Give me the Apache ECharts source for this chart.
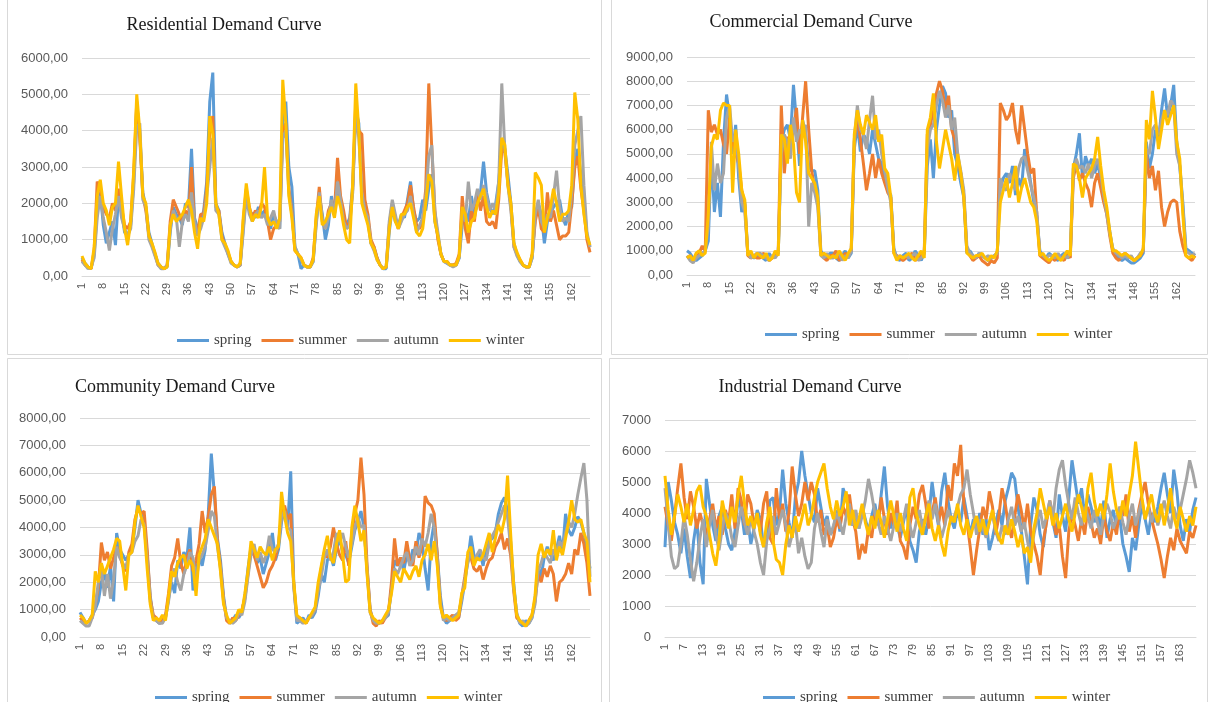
<!DOCTYPE html>
<html><head><meta charset="utf-8">
<script src="https://cdn.jsdelivr.net/npm/echarts@6/dist/echarts.min.js"></script>
<style>html,body{margin:0;padding:0;background:#fff}#c{width:1209px;height:702px}</style>
</head><body><div id="c"></div>
<script>
// categories: hour index 1..168 (one week)
const hours = Array.from({length:168}, (_, i) => String(i + 1));
const seasons = ['spring', 'summer', 'autumn', 'winter'];
const colors = ['#5B9BD5', '#ED7D31', '#A5A5A5', '#FFC000'];

// Residential
const resSpring = [
500,350,250,200,600,1800,2300,1400,900,1200,1500,850,2200,1800,1200,1100,1400,2600,4700,3900,2300,1900,1200,900,
600,350,250,200,250,1200,1900,1700,1600,1400,2000,1900,3500,1600,1300,1500,1800,2600,4800,5600,2000,1800,1200,900,
600,400,300,250,300,1300,2300,1800,1700,1600,1900,1700,1800,1500,1300,1700,1500,1300,4200,4800,3000,2450,800,600,
200,300,250,250,400,1500,2200,1700,1000,1400,2200,1700,2600,2000,1600,1400,1600,2500,4600,4200,2200,1900,1500,900,
800,500,300,200,200,1200,1900,1500,1400,1700,1600,2100,2600,1800,1500,1600,2100,1800,2400,2800,1500,1100,600,400,
350,300,300,300,500,1400,1800,1500,2200,1700,2000,2300,3150,2300,1900,1700,2000,2600,3600,3500,2800,2000,900,600,
400,300,250,250,500,1600,2000,1700,900,1500,1700,1900,2000,2100,1600,1400,1800,1900,3200,3500,2800,2100,1100,800];
const resSummer = [
450,300,250,200,700,2600,2400,1900,1700,1600,2000,1800,2400,1900,1400,1300,1500,2800,4800,3800,2200,1800,1100,850,
600,300,250,200,300,1500,2100,1900,1700,1500,1800,1600,3000,1400,1200,1700,1700,2400,4000,4400,1900,1800,1100,850,
650,400,300,250,300,1500,2400,1900,1600,1800,1700,2000,1900,1500,1000,1300,1400,1500,4000,4200,2400,1800,700,600,
500,300,250,250,500,1600,2450,1500,1300,1800,2000,1800,3250,2200,1800,1300,1500,2400,4800,4000,3900,2100,1700,1000,
800,500,300,200,250,1400,2000,1600,1300,1600,1800,2000,2500,1900,1400,1300,1500,2400,5300,3500,1800,1000,600,400,
400,300,300,350,600,2200,1300,900,1800,1500,2300,1800,2200,1500,1400,1500,1300,2100,3500,3400,2600,1900,800,600,
450,300,250,250,600,1500,1900,1300,1200,2300,1500,1800,1400,1000,1100,1100,1200,2000,3000,3300,2400,1800,1000,650];
const resAutumn = [
400,300,200,250,500,1600,2200,1600,1200,700,1300,1700,2200,1600,1300,1100,1300,2400,4100,4200,2100,1900,1000,800,
550,300,200,200,300,1300,1800,1600,800,1500,1700,1500,2300,1500,1100,1300,1600,2200,3000,3800,1800,1700,1000,800,
600,350,300,250,300,1200,2200,1700,1500,1700,1800,1600,1700,1400,1600,1800,1400,1300,3800,4000,2300,1700,800,600,
450,300,250,250,400,1400,2300,1600,1300,1600,2100,1700,2600,2100,1500,1300,1400,2300,4500,3800,2300,1800,1600,900,
700,450,300,200,250,1500,2100,1700,1300,1500,1700,1800,2200,1700,1200,1400,1600,2200,3300,3600,1800,1200,600,400,
350,300,250,300,500,1800,1500,2600,1800,2000,2400,2100,2500,2200,1800,2000,1800,2600,5300,3500,2500,1800,800,550,
400,300,250,250,500,1700,2100,1500,1300,1700,1600,2200,2900,1900,1500,1600,1500,2300,3600,4000,4400,2500,1200,800];
const resWinter = [
550,350,250,200,800,2200,2650,2000,1800,1400,1900,2000,3150,2200,1300,850,1500,2900,5000,4000,2200,2000,1100,900,
650,350,250,200,250,1400,1700,1500,1600,1700,1900,2100,1800,1200,750,1600,1500,2000,4400,3900,2000,1700,1000,900,
700,400,300,250,350,1600,2550,1900,1500,1700,1600,1900,3000,1600,1400,1500,1300,1600,5400,4200,2200,1600,700,600,
500,300,250,250,450,1700,2200,1400,1500,1700,1900,1600,2200,1900,1400,1000,900,2600,5300,4000,2000,1700,1400,900,
750,450,300,200,250,1300,1900,1500,1300,1700,1700,1900,2000,1600,1200,1100,1300,2000,2800,2600,1500,1100,600,400,
400,300,300,300,550,1900,1700,1200,1500,1600,2000,2200,2400,1900,1600,1800,1700,2300,3800,3600,2500,2000,900,650,
450,300,250,250,600,2850,2700,2500,1200,1600,1900,2400,2000,1500,1700,1700,1800,2500,5050,4300,2500,1700,1100,850];

// Commercial
const comSpring = [
1000,900,700,600,700,800,1000,1400,5000,2600,3800,2400,5500,7450,6500,5000,6200,4000,2600,3000,900,800,700,800,
800,700,600,900,700,800,900,5500,6000,6200,5600,7850,6300,4500,6400,5800,4500,4300,4300,3500,1000,800,700,900,
900,700,600,800,1000,700,900,5200,6200,5100,5800,5600,5000,6000,5400,4800,4600,4000,3500,3300,1100,700,600,800,
900,600,700,1000,800,600,900,4500,5600,4000,6000,7000,7800,7500,6500,6800,5000,4500,3800,3200,900,1000,800,700,
900,800,700,600,700,800,900,3600,4000,4200,3800,4500,3300,4000,3600,5200,4600,3800,3000,2400,1000,800,700,900,
800,700,600,800,900,700,800,4400,5000,5850,4000,4900,4500,4800,4200,4600,4000,3200,2600,1800,1000,800,700,600,
700,600,500,500,600,700,900,5500,4400,5000,6000,5500,6800,7700,6500,7000,7850,5500,4500,3000,1100,1000,900,800];
const comSummer = [
700,800,600,700,900,1200,1000,6800,5900,6200,5800,6000,5400,5000,6500,5500,5000,4600,3500,2900,800,700,800,700,
700,900,800,600,700,800,1000,7000,4200,5700,5400,6000,6900,5000,6500,8000,6000,4300,3500,3000,900,700,600,800,
800,1000,600,700,900,800,1000,5500,6500,5600,4600,3500,4200,5000,4000,4800,4200,3800,3400,3200,900,800,700,600,
700,800,900,600,700,800,1000,5800,6200,6800,7500,8000,7600,6800,7400,6000,5600,4800,4200,3300,1000,800,600,700,
800,600,500,400,600,500,700,7100,6800,6400,6600,7100,6000,5400,7000,6000,5000,4200,4400,2500,800,700,600,500,
700,600,800,700,600,900,700,4000,4600,3900,4200,3800,3500,2800,3800,4200,3600,3000,2500,1600,900,700,600,800,
900,800,700,600,700,800,1000,5000,4000,4500,3500,4300,2800,2000,2600,3000,3100,3000,1800,1200,800,700,600,800];
const comAutumn = [
800,600,500,700,800,900,1000,2000,5500,3500,4600,3800,4200,6500,7000,5500,5800,4500,3000,2600,900,700,800,900,
900,800,700,600,800,700,900,5000,5800,5500,4800,6500,5500,6000,5800,6200,2000,3800,3400,2800,800,700,900,700,
700,800,900,600,800,700,1000,5600,7000,6000,5800,5200,6400,7400,5600,6000,5000,4300,3600,3000,1000,700,800,700,
800,700,800,900,600,700,900,5200,6000,6200,7000,7600,7200,6500,7000,6000,6500,5000,4300,3500,1200,900,800,700,
900,800,700,800,700,800,900,4000,3600,3500,4200,3900,3500,4400,4800,4900,4300,3700,3200,2600,900,800,700,800,
800,700,900,600,800,700,900,4200,4800,4400,4500,4200,4600,4000,4500,4800,4200,3300,2500,1700,1100,900,800,700,
800,700,800,600,700,900,1000,5200,5000,6000,6200,5800,6400,6800,6600,7200,7000,5000,4500,2800,1000,900,800,900];
const comWinter = [
700,800,600,900,1000,800,900,2500,5300,5800,5600,6800,7100,7000,7000,3400,6000,5000,3500,3100,800,1000,700,900,
800,700,900,600,700,1000,800,5800,5600,4600,6200,5400,3400,3000,6400,5500,4200,4000,3800,3200,800,900,800,700,
800,700,1000,800,600,900,1100,5800,6800,6200,5800,6600,6300,6000,6600,5500,5800,4400,4200,3200,900,600,800,700,
800,900,700,600,800,1000,700,6000,6500,7500,5500,4400,5200,6000,5400,4800,3900,5000,4200,3200,900,800,700,800,
800,900,700,600,800,700,1000,3000,3500,4000,3200,3800,4500,3000,3600,4000,3500,3000,2800,2200,800,900,700,600,
700,900,700,600,800,1000,800,4600,4500,4000,3200,4000,4200,4400,4800,5700,4500,3500,2800,1800,1000,1000,900,800,
900,800,700,600,700,800,1100,6400,5600,7600,6500,5200,6000,6800,6200,6600,7000,5500,4800,2500,800,700,800,700];

// Community
const cmySpring = [
900,700,500,600,800,1000,1300,2000,2300,1800,2600,1300,3800,3200,3000,2800,3000,3200,4000,5000,4500,4200,3000,1500,
700,600,500,600,700,1400,2000,1600,2800,2500,3100,2900,4000,1700,2300,3000,2600,3200,4500,6700,5200,3600,2800,1500,
700,500,600,800,700,900,1500,2500,3300,3000,2700,2900,2300,2700,3100,3800,2800,3200,4200,4700,4000,6050,2000,500,
600,700,500,800,700,900,1500,2300,2000,2800,3000,2600,3200,3600,3100,3000,2700,3300,3900,4200,4600,4000,2500,1000,
600,500,500,600,700,800,1800,2800,2600,2900,2400,3000,2700,3200,3000,3800,3500,2500,1700,3500,4200,3000,1500,700,
500,600,700,800,700,1300,2000,2800,3700,3000,2800,3100,2600,3300,3500,3600,3800,4500,4900,5100,4600,3500,2000,800,
500,400,600,500,700,1400,2600,2200,2900,3300,3000,2800,3200,3700,3100,4500,3900,3700,4000,4400,4200,3800,3200,2500];
const cmySummer = [
700,600,500,600,700,1200,1800,3450,2800,3100,2500,2900,3300,3000,2600,2400,3100,3400,4300,4700,4500,4600,3200,1400,
800,700,500,600,800,1600,2600,2900,3600,2700,2300,2900,3200,2400,2800,3400,4600,3800,4400,5200,5500,3500,2600,1400,
600,500,700,600,800,1000,1400,2300,3200,3000,2600,2200,1800,2000,2400,2600,2900,3400,4500,4800,4300,4500,1900,700,
700,600,500,700,800,1000,1800,2500,3100,2900,3300,4000,3400,3000,2800,3500,2600,3800,4500,5000,6550,5200,2600,1000,
500,400,600,500,700,900,2000,3600,2600,2900,2700,3500,2800,2600,3500,2900,3300,5150,4900,4800,4500,3000,1200,700,
600,700,800,600,700,1500,2200,3000,2900,2500,2400,2600,2100,2500,2800,2900,3300,3500,3800,3200,3600,3000,1700,700,
600,500,400,600,800,1300,2300,2000,2500,2200,2600,2300,1300,2000,2100,2300,2700,2300,3200,3000,3800,3400,2700,1500];
const cmyAutumn = [
600,500,400,400,700,1100,2000,2500,1500,2300,1400,2100,3300,2900,2700,2500,3000,3100,3500,3700,4300,4100,2800,1300,
700,600,500,500,700,1300,2200,2500,2000,1700,2300,2600,3100,2900,2000,2800,3000,3300,3900,4600,4400,3300,2500,1300,
700,600,500,600,900,800,1300,2200,3000,3400,2800,3100,2700,3000,3700,3200,3100,3400,4400,4600,4000,3900,1800,600,
600,500,600,700,800,1000,1700,2200,2900,3200,2800,3100,3800,3500,3800,3300,2900,3400,4000,4400,4000,4100,2400,900,
600,500,500,600,700,900,1700,2500,2300,2600,2900,3100,2600,2800,3300,3000,3600,3300,3800,4500,4000,2800,1200,600,
700,600,700,800,900,1400,2100,2700,3100,2800,3000,3200,2900,2800,3400,3700,3900,4200,4500,4800,4400,3300,1800,900,
500,600,400,500,700,1200,2400,2700,3100,2900,2700,3200,3000,3500,3300,3800,4200,4000,4500,5200,5800,6350,5000,2200];
const cmyWinter = [
800,700,500,600,800,2400,2000,2700,2300,2600,2900,3200,3600,3500,2600,1700,3000,3100,4200,4800,4400,4000,2500,1200,
600,700,600,800,600,1500,2400,2200,2700,2900,3000,2500,2800,2600,1500,3000,3300,3600,4300,4000,3700,3400,2400,1200,
800,500,600,700,1000,900,1600,2400,3500,3200,2900,3300,3100,3000,3300,2800,3200,3300,5300,4400,3800,3500,2000,800,
700,600,500,700,900,1100,2000,2600,3200,3700,2900,2700,3400,3900,3000,2000,2100,4000,4800,4200,3500,3900,2300,900,
700,600,500,600,800,1000,1600,2400,2200,2000,2500,2300,2100,2400,2600,2200,2800,3000,3400,2800,3500,2600,1100,700,
800,700,600,700,800,1600,1800,3100,3300,2600,2900,2800,3000,3400,3800,3100,3600,4100,3800,4300,5900,3800,1900,800,
600,500,400,600,800,1500,3000,3400,2900,3200,3000,3900,2800,3300,3000,3600,4200,5000,4300,4200,4300,3800,3500,2000];

// Industrial
const indSpring = [
2900,5000,4400,3700,3300,2700,3500,2600,1900,3100,3800,2400,1700,5100,
4300,3600,3100,3900,4200,3500,3000,2800,3400,4500,4100,3300,3800,3000,
3500,4100,3800,2900,3300,4400,4500,3600,4000,5400,4300,3700,3200,4500,
5000,6000,5200,4600,4000,3700,4800,4200,3600,3900,3300,3500,4100,3400,
4800,4500,4000,3600,3900,3500,4200,3800,3400,3900,4300,3700,4600,5500,
4200,3500,3900,3600,3200,3700,4200,3100,2800,2400,3400,3800,3300,3900,
5000,4200,3600,4700,5300,4400,3800,3500,4100,3700,4500,3900,3300,3800,
3500,4000,3300,3800,2800,3200,3700,4100,3600,4400,4800,5300,5100,4200,
3500,2600,1700,3600,4500,4100,3300,2900,3800,4200,3700,3200,4600,3900,
3400,4500,5700,5000,4300,4800,3900,4600,4200,3700,4000,3500,4400,3200,
3800,4100,3500,3900,3000,2600,2100,3200,2800,3600,4300,3800,3300,4000,
3700,4200,4800,5300,4600,4000,5400,4700,3600,3100,3800,3400,4100,4500];
const indSummer = [
4200,3600,3100,3900,4800,5600,4500,3800,4700,4200,3500,4000,3600,3300,
3800,4300,3500,3900,3300,4100,3700,4600,3500,4800,4400,3600,4600,4300,
3600,3900,3400,4300,4700,3200,3000,4800,3800,4300,3400,4000,5500,4600,
3900,4300,5000,4400,5000,4600,3700,4100,3300,3600,2900,3200,3800,3500,
4200,3900,4600,3800,3400,2500,3000,2700,3500,3200,4000,3600,4500,3800,
3300,4000,3600,4400,3100,2900,2500,3600,4200,3800,4600,4900,4300,3500,
4000,4500,3700,4200,3600,4900,4400,5600,5200,6200,4300,3700,2900,2000,
2800,3500,4200,3800,4700,4200,3300,3900,4800,4300,3600,3200,3900,4600,
4100,3500,4300,3400,3000,2600,2000,3100,3700,4400,3900,3300,3600,2600,
1900,3400,4000,3600,3100,3800,3300,4200,3700,3200,3500,3000,3900,3400,
3100,3700,3300,4200,3900,4600,3400,3900,3200,4100,4600,5000,4300,3800,
3400,3000,2500,1900,2600,3200,2800,3500,3100,2900,2700,3400,3200,3600];
const indAutumn = [
4800,3700,2600,2200,2300,3000,3900,3300,2500,1800,2400,3200,3800,2900,
3600,4100,3300,2800,3500,4000,3800,3200,2900,3600,4200,3700,3300,3800,
3400,3000,2400,2000,3100,3500,3900,3300,3700,4100,3600,2900,3300,3700,
2700,3200,2600,2200,2400,3500,4000,3400,2900,3800,3300,3600,4000,3700,
3300,3900,4300,3600,4100,3500,3900,4400,5100,4600,4000,3700,3300,3900,
3500,3100,3600,4000,3400,3800,4300,3600,3200,3700,4100,3500,3900,4400,
3800,4300,3700,3200,3600,4100,3700,3900,4200,4600,4800,5400,4600,4000,
3300,3800,3500,3200,3700,4000,3400,3100,3600,3300,3800,4200,3600,3900,
3400,3700,3100,2600,3300,3800,4100,3500,3900,4400,3800,4800,5400,5700,
4900,4300,3800,4500,4000,3600,4200,3900,3500,4100,3700,3300,3900,4300,
4000,3500,3800,4200,3700,3300,3900,4300,3600,4000,4400,3800,4200,3700,
4100,3600,4000,4400,3900,3500,4200,3800,4100,4600,5100,5700,5300,4800];
const indWinter = [
5200,4100,3300,3900,4600,4200,3700,4300,3600,4100,4700,4900,4200,3900,
3300,2700,2300,3100,4400,3900,3500,4200,3700,4600,5200,4300,3600,3900,
3500,4000,3300,2900,3700,4200,3100,2500,2400,2000,3000,3600,3200,3900,
3400,3800,4300,3600,3900,4500,5000,5300,5600,4800,4200,3800,4400,3900,
4200,4700,3600,4100,3500,3800,4300,3700,3300,3900,3500,4100,3700,3200,
3800,4400,3900,3400,4000,3500,3100,4500,4800,4000,3600,3300,3900,4300,
3500,3100,3600,3000,2600,3400,3900,3700,4300,3600,3300,3800,3200,3600,
3900,3400,3800,3300,3700,4100,3500,3200,3000,3600,3300,3800,3400,2900,
3300,2700,2900,2400,3500,4000,4800,4300,3800,4200,3600,4000,3500,3900,
4300,3800,3400,4000,4600,4200,3700,4800,5300,4400,3900,4300,3800,4600,
5600,4700,4100,3800,4400,3900,4600,5200,6300,5400,4500,3800,4200,4600,
4000,3700,4300,3600,4100,4800,3900,3500,4200,3800,3400,3900,3600,4200];

const panels = [
  {title:'Residential Demand Curve', tx:224, ty:25, grid:{left:82, top:58, width:508, height:218},
   max:6000, step:1000, dec:true, labelInt:6, legendPos:{left:172, top:328},
   data:[resSpring, resSummer, resAutumn, resWinter]},
  {title:'Commercial Demand Curve', tx:811, ty:22, grid:{left:687, top:57, width:508, height:218},
   max:9000, step:1000, dec:true, labelInt:6, legendPos:{left:760, top:322},
   data:[comSpring, comSummer, comAutumn, comWinter]},
  {title:'Community Demand Curve', tx:175, ty:387, grid:{left:80, top:418, width:510, height:219},
   max:8000, step:1000, dec:true, labelInt:6, legendPos:{left:150, top:685},
   data:[cmySpring, cmySummer, cmyAutumn, cmyWinter]},
  {title:'Industrial Demand Curve', tx:810, ty:387, grid:{left:665, top:420, width:531, height:217},
   max:7000, step:1000, dec:false, labelInt:5, legendPos:{left:758, top:685},
   data:[indSpring, indSummer, indAutumn, indWinter]}
];

const axisFont = 'Liberation Sans';
const grids = [], xAxes = [], yAxes = [], series = [], legends = [], graphics = [];

[[7,-2,594,356],[611,-2,596,356],[7,358,594,346],[609,358,598,346]].forEach(r => {
  graphics.push({type:'rect', shape:{x:r[0]+0.5, y:r[1]+0.5, width:r[2], height:r[3]},
    style:{fill:'none', stroke:'#d9d9d9', lineWidth:1}, silent:true});
});

panels.forEach((p, k) => {
  grids.push(Object.assign({outerBoundsMode:'none', containLabel:false}, p.grid));
  xAxes.push({type:'category', gridIndex:k, data:hours, boundaryGap:false,
    axisTick:{show:false}, axisLine:{lineStyle:{color:'#d9d9d9', width:1}},
    axisLabel:{rotate:90, interval:p.labelInt, margin:7, fontSize:11, color:'#595959', fontFamily:axisFont}});
  yAxes.push({type:'value', gridIndex:k, min:0, max:p.max, interval:p.step,
    axisLine:{show:false}, axisTick:{show:false},
    splitLine:{lineStyle:{color:'#d9d9d9', width:1}},
    axisLabel:{margin:14, fontSize:13, color:'#595959', fontFamily:axisFont,
      formatter: v => p.dec ? v.toFixed(2).replace('.', ',') : String(v)}});
  p.data.forEach((d, s) => {
    series.push({type:'line', name:seasons[s], xAxisIndex:k, yAxisIndex:k, data:d,
      showSymbol:false, symbol:'none', color:colors[s],
      lineStyle:{width:3, color:colors[s]}, emphasis:{disabled:true}});
  });
  legends.push({data:seasons, left:p.legendPos.left, top:p.legendPos.top, icon:'rect',
    itemWidth:32, itemHeight:3, itemGap:10, selectedMode:false,
    textStyle:{fontFamily:'Liberation Serif', fontSize:15, color:'#404040'}});
  graphics.push({type:'text', x:p.tx, y:p.ty, silent:true,
    style:{text:p.title, align:'center', verticalAlign:'middle',
      font:'18px "Liberation Serif"', fill:'#1a1a1a'}});
});

const chart = echarts.init(document.getElementById('c'), null, {renderer:'canvas'});
chart.setOption({
  animation:false,
  backgroundColor:'#ffffff',
  grid:grids, xAxis:xAxes, yAxis:yAxes, series:series, legend:legends, graphic:graphics
});
</script>
</body></html>
